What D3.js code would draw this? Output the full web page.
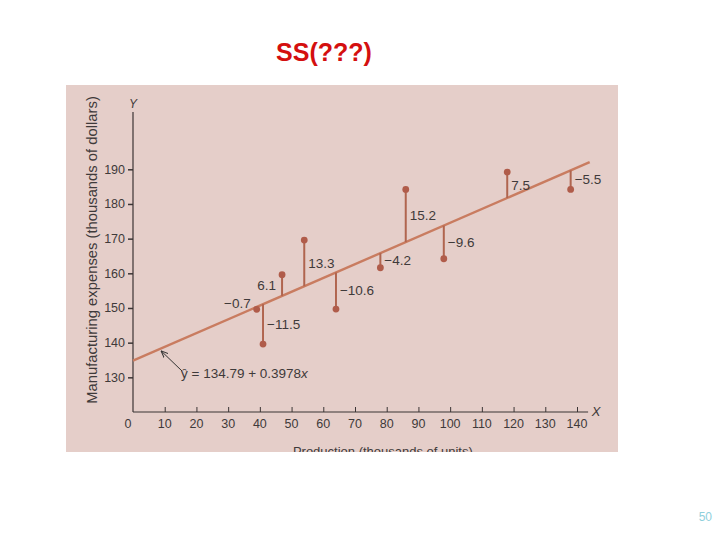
<!DOCTYPE html>
<html>
<head>
<meta charset="utf-8">
<script src="https://cdn.jsdelivr.net/npm/d3@7"></script>
<style>
  html, body { margin: 0; padding: 0; background: #ffffff; }
  svg { display: block; }
  text { font-family: "Liberation Sans", Arial, Helvetica, sans-serif; }
</style>
</head>
<body>
<svg id="chart" width="720" height="540"></svg>
<script>
// ---- data ----
const title = "SS(???)";
const pageNumber = "50";
const xValues = [39, 41, 47, 54, 64, 78, 86, 98, 118, 138];
const yValues = [149.6, 139.6, 159.6, 169.6, 149.7, 161.6, 184.2, 164.2, 189.2, 184.2];
const residualLabels = ["\u22120.7", "\u221211.5", "6.1", "13.3", "\u221210.6", "\u22124.2", "15.2", "\u22129.6", "7.5", "\u22125.5"];
const intercept = 134.79;
const slope = 0.3978;
const xTicks = [0, 10, 20, 30, 40, 50, 60, 70, 80, 90, 100, 110, 120, 130, 140];
const yTicks = [130, 140, 150, 160, 170, 180, 190];
const xAxisTitle = "Production (thousands of units)";
const yAxisTitle = "Manufacturing expenses (thousands of dollars)";
const equationText = "\u0177 = 134.79 + 0.3978";

// ---- layout (not data) ----
const labelOnLeft = [true, false, true, false, false, false, false, false, false, false];

const svg = d3.select("#chart");

// title
svg.append("text")
  .attr("x", 324).attr("y", 61)
  .attr("text-anchor", "middle")
  .attr("font-size", 25).attr("font-weight", "bold")
  .attr("fill", "#d40f0f")
  .text(title);

// page number
svg.append("text")
  .attr("x", 712).attr("y", 521)
  .attr("text-anchor", "end")
  .attr("font-size", 12)
  .attr("fill", "#8fd0dc")
  .text(pageNumber);

// scanned panel
svg.append("rect")
  .attr("x", 66).attr("y", 85)
  .attr("width", 552).attr("height", 367)
  .attr("fill", "#e5cec9");

const x = d3.scaleLinear().domain([0, 140]).range([133, 577]);
const y = d3.scaleLinear().domain([120, 190]).range([412, 169.3]);

const axisColor = "#3b3535";
const textColor = "#3f3a3a";

// x axis
const gx = svg.append("g").attr("transform", `translate(0,${y(120)})`);
gx.call(d3.axisTop(x).tickValues(xTicks.filter(d => d > 0)).tickSize(5).tickFormat(""))
  .call(g => g.select(".domain").remove());
gx.selectAll(".tick line").attr("stroke", axisColor).attr("stroke-width", 1);
gx.append("line")
  .attr("x1", x(0)).attr("x2", x(143.5))
  .attr("stroke", axisColor).attr("stroke-width", 1.2);
gx.selectAll(".xlab").data(xTicks).enter().append("text")
  .attr("x", d => x(d) + (d === 0 ? -5 : 0))
  .attr("y", 16)
  .attr("text-anchor", "middle")
  .attr("font-size", 12.5)
  .attr("fill", textColor)
  .text(d => d);
gx.append("text")
  .attr("x", x(143.5) + 8).attr("y", 4)
  .attr("font-size", 13).attr("font-style", "italic")
  .attr("fill", textColor)
  .text("X");

// y axis
const gy = svg.append("g").attr("transform", `translate(${x(0)},0)`);
gy.call(d3.axisLeft(y).tickValues(yTicks).tickSize(5).tickPadding(3).tickFormat(d => d))
  .call(g => g.select(".domain").remove());
gy.selectAll(".tick line").attr("stroke", axisColor).attr("stroke-width", 1.5);
gy.selectAll(".tick text")
  .attr("font-size", 12.5)
  .attr("fill", textColor)
  .attr("font-family", "Liberation Sans, Arial, sans-serif");
gy.append("line")
  .attr("y1", y(120)).attr("y2", y(206.5))
  .attr("stroke", axisColor).attr("stroke-width", 1.2);
gy.append("text")
  .attr("x", 0).attr("y", y(206.5) - 4)
  .attr("text-anchor", "middle")
  .attr("font-size", 12).attr("font-style", "italic")
  .attr("fill", textColor)
  .text("Y");

// axis titles
svg.append("text")
  .attr("transform", `translate(97,${(95 + 405) / 2}) rotate(-90)`)
  .attr("text-anchor", "middle")
  .attr("font-size", 14.8)
  .attr("fill", textColor)
  .text(yAxisTitle);

svg.append("text")
  .attr("x", (x(60) + x(90)) / 2 + 12).attr("y", 456)
  .attr("text-anchor", "middle")
  .attr("font-size", 13)
  .attr("fill", textColor)
  .text(xAxisTitle);
// scan edge cuts off the bottom of the x title
svg.append("rect").attr("x", 60).attr("y", 452).attr("width", 600).attr("height", 20).attr("fill", "#ffffff");

// regression line
const fit = v => intercept + slope * v;
svg.append("line")
  .attr("x1", x(0)).attr("y1", y(fit(0)))
  .attr("x2", x(144)).attr("y2", y(fit(144)))
  .attr("stroke", "#c97c60").attr("stroke-width", 2.4);

// residuals
const pts = xValues.map((v, i) => ({ x: v, y: yValues[i], label: residualLabels[i], left: labelOnLeft[i] }));

svg.selectAll(".stem").data(pts).enter().append("line")
  .attr("x1", d => x(d.x)).attr("x2", d => x(d.x))
  .attr("y1", d => y(d.y)).attr("y2", d => y(fit(d.x)))
  .attr("stroke", "#b0654f").attr("stroke-width", 2);

svg.selectAll(".dot").data(pts).enter().append("circle")
  .attr("cx", d => x(d.x)).attr("cy", d => y(d.y))
  .attr("r", 3.4)
  .attr("fill", "#b05c4a");

svg.selectAll(".rlab").data(pts).enter().append("text")
  .attr("x", d => d.left ? x(d.x) - 6 : x(d.x) + 4)
  .attr("y", d => {
    const mid = (y(d.y) + y(fit(d.x))) / 2;
    if (d.left && Math.abs(d.y - fit(d.x)) < 2) return y(d.y) - 1;
    return mid + 4.5;
  })
  .attr("text-anchor", d => d.left ? "end" : "start")
  .attr("font-size", 13.5)
  .attr("fill", textColor)
  .text(d => d.label);

// equation annotation with arrow
const eqX = 181, eqY = 378;
const eq = svg.append("text")
  .attr("x", eqX).attr("y", eqY)
  .attr("font-size", 13.5)
  .attr("fill", textColor);
eq.append("tspan").text(equationText);
eq.append("tspan").attr("font-style", "italic").text("x");

svg.append("defs").append("marker")
  .attr("id", "arr").attr("viewBox", "0 0 10 10")
  .attr("refX", 9).attr("refY", 5)
  .attr("markerWidth", 7).attr("markerHeight", 7)
  .attr("orient", "auto-start-reverse")
  .append("path").attr("d", "M0,1 L10,5 L0,9").attr("fill", "none").attr("stroke", "#333").attr("stroke-width", 1.4);

svg.append("line")
  .attr("x1", eqX + 1).attr("y1", eqY - 7)
  .attr("x2", x(9)).attr("y2", y(fit(9)) + 3)
  .attr("stroke", "#333").attr("stroke-width", 1)
  .attr("marker-end", "url(#arr)");
</script>
</body>
</html>
